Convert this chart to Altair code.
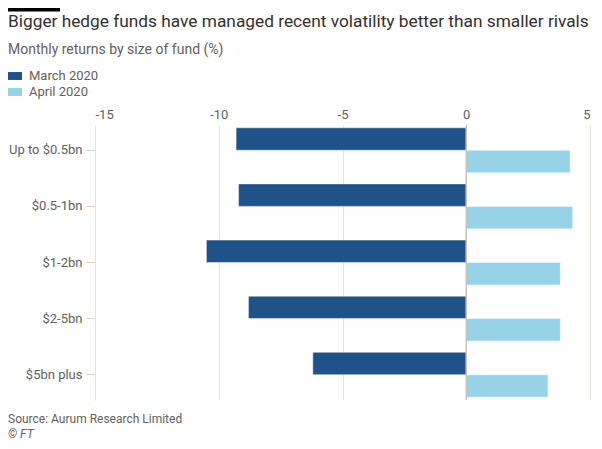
import altair as alt
import pandas as pd

# ---- data ----
categories = ["Up to $0.5bn", "$0.5-1bn", "$1-2bn", "$2-5bn", "$5bn plus"]
march_2020 = [-9.3, -9.2, -10.5, -8.8, -6.2]
april_2020 = [4.2, 4.3, 3.8, 3.8, 3.3]
series = ["March 2020", "April 2020"]
x_ticks = [-15, -10, -5, 0, 5]
zero_line = [0]

title_text = "Bigger hedge funds have managed recent volatility better than smaller rivals"
subtitle_text = "Monthly returns by size of fund (%)"
source_text = "Source: Aurum Research Limited"
credit_text = "\u00a9 FT"

FONT = "Roboto"
GREY = "#66605c"
DARK = "#33302e"

rows = []
for c, m, a in zip(categories, march_2020, april_2020):
    rows.append({"size": c, "period": series[0], "value": m})
    rows.append({"size": c, "period": series[1], "value": a})
df = pd.DataFrame(rows)

bars = alt.Chart(df).mark_bar(stroke="#ffffff", strokeWidth=0.8, strokeOpacity=0.6).encode(
    y=alt.Y(
        "size:N",
        sort=categories,
        title=None,
        scale=alt.Scale(paddingInner=0.2, paddingOuter=0.05),
        axis=alt.Axis(
            domain=False, ticks=True, tickSize=9, tickColor="#d9cfc6", tickWidth=1,
            labelPadding=4, labelFontSize=13, labelColor=GREY, labelFont=FONT, grid=False,
        ),
    ),
    yOffset=alt.YOffset("period:N", sort=series, scale=alt.Scale(paddingInner=0, paddingOuter=0)),
    x=alt.X(
        "value:Q",
        stack=False,
        title=None,
        scale=alt.Scale(domain=[-15, 5], nice=False, zero=False),
        axis=alt.Axis(
            orient="top", values=x_ticks, domain=False, ticks=False, tickSize=0,
            labelPadding=4, labelFontSize=13, labelColor=GREY, labelFont=FONT,
            labelExpr="datum.value + ''",
            grid=True, gridColor="#e9e1da", gridWidth=1,
        ),
    ),
    color=alt.Color(
        "period:N",
        sort=series,
        scale=alt.Scale(domain=series, range=["#1f5289", "#96d3e6"]),
        legend=alt.Legend(
            title=None, orient="none", legendX=-91, legendY=-58, padding=0,
            symbolType="M-1,-0.44H1V0.44H-1Z", symbolSize=324, symbolStrokeWidth=0,
            labelFontSize=13, labelColor=GREY, labelFont=FONT, labelOffset=7, rowPadding=0,
        ),
    ),
)

zero = alt.Chart(pd.DataFrame({"value": zero_line})).mark_rule(
    color="#cbc2b9", strokeWidth=1.5
).encode(x=alt.X("value:Q"))


def text_layer(txt, y, size, color, style="normal"):
    return alt.Chart(pd.DataFrame({"t": [txt]})).mark_text(
        align="left", baseline="alphabetic", fontSize=size, color=color, font=FONT, fontStyle=style
    ).encode(x=alt.value(-87), y=alt.value(y), text="t:N")


title = text_layer(title_text, -98, 17.3, DARK)
subtitle = text_layer(subtitle_text, -71, 14, GREY)
source = text_layer(source_text, 298, 12, GREY)
credit = text_layer(credit_text, 313, 12, GREY, "italic")

topbar = alt.Chart(pd.DataFrame({"t": [0]})).mark_rule(color="#000000", strokeWidth=3.5).encode(
    x=alt.value(-87), x2=alt.value(-35), y=alt.value(-115.25)
)

chart = alt.layer(bars, zero, title, subtitle, source, credit, topbar).properties(
    width=495,
    height=275,
    autosize=alt.AutoSizeParams(type="none"),
    padding={"left": 87, "top": 117, "right": 4, "bottom": 40},
).configure_view(stroke=None)

chart.save("out.html", embed_options={"renderer": "svg", "actions": False})
